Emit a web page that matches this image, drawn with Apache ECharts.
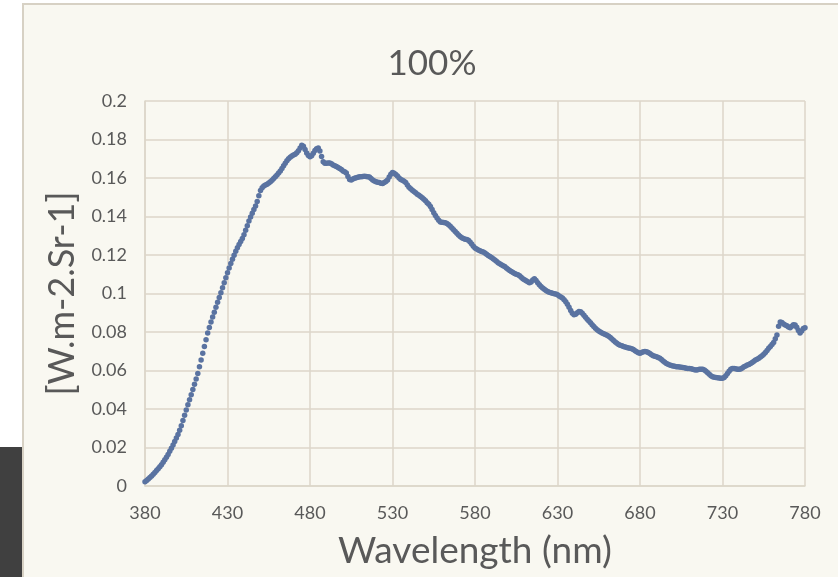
<!DOCTYPE html>
<html>
<head>
<meta charset="utf-8">
<title>100%</title>
<script src="https://cdn.jsdelivr.net/npm/echarts@6/dist/echarts.min.js"></script>
<style>
  html, body { margin: 0; padding: 0; background: #ffffff; }
  body { width: 838px; height: 577px; position: relative; overflow: hidden; }
  #frame {
    position: absolute; left: 22px; top: 3px; width: 840px; height: 600px;
    background: #f9f8f1; border: 2px solid #d7d1c4; box-sizing: border-box;
  }
  #sidebar {
    position: absolute; left: 0; top: 447px; width: 22px; height: 130px;
    background: #404040;
  }
  #chart { position: absolute; left: 0; top: 0; width: 838px; height: 577px; }
</style>
</head>
<body>
<div id="frame"></div>
<div id="sidebar"></div>
<div id="chart"></div>
<script>
// Spectral radiance sampled every 1 nm, starting at 380 nm
const startNm = 380;
const stepNm = 1;
const radiance = [
  // 380
  0.0022, 0.0029, 0.0036, 0.0044, 0.0052, 0.0061, 0.0070, 0.0080, 0.0090, 0.0100,
  // 390
  0.0111, 0.0123, 0.0136, 0.0150, 0.0164, 0.0180, 0.0196, 0.0213, 0.0231, 0.0249,
  // 400
  0.0268, 0.0290, 0.0313, 0.0340, 0.0367, 0.0395, 0.0422, 0.0448, 0.0474, 0.0501,
  // 410
  0.0528, 0.0556, 0.0585, 0.0620, 0.0655, 0.0690, 0.0725, 0.0760, 0.0795, 0.0824,
  // 420
  0.0852, 0.0878, 0.0903, 0.0929, 0.0954, 0.0979, 0.1004, 0.1030, 0.1056, 0.1082,
  // 430
  0.1108, 0.1133, 0.1156, 0.1178, 0.1199, 0.1219, 0.1238, 0.1254, 0.1270, 0.1286,
  // 440
  0.1305, 0.1328, 0.1352, 0.1376, 0.1397, 0.1417, 0.1436, 0.1455, 0.1478, 0.1508,
  // 450
  0.1535, 0.1550, 0.1558, 0.1563, 0.1568, 0.1574, 0.1580, 0.1588, 0.1597, 0.1606,
  // 460
  0.1616, 0.1626, 0.1637, 0.1650, 0.1663, 0.1677, 0.1690, 0.1700, 0.1708, 0.1714,
  // 470
  0.1719, 0.1724, 0.1731, 0.1742, 0.1756, 0.1770, 0.1765, 0.1748, 0.1730, 0.1717,
  // 480
  0.1710, 0.1716, 0.1728, 0.1743, 0.1752, 0.1756, 0.1740, 0.1712, 0.1685, 0.1676,
  // 490
  0.1676, 0.1678, 0.1678, 0.1674, 0.1668, 0.1663, 0.1660, 0.1655, 0.1650, 0.1644,
  // 500
  0.1637, 0.1632, 0.1626, 0.1608, 0.1592, 0.1590, 0.1595, 0.1599, 0.1601, 0.1604,
  // 510
  0.1606, 0.1607, 0.1608, 0.1609, 0.1608, 0.1607, 0.1605, 0.1598, 0.1590, 0.1584,
  // 520
  0.1580, 0.1578, 0.1576, 0.1573, 0.1572, 0.1576, 0.1582, 0.1590, 0.1605, 0.1620,
  // 530
  0.1629, 0.1625, 0.1618, 0.1610, 0.1600, 0.1592, 0.1588, 0.1583, 0.1576, 0.1564,
  // 540
  0.1552, 0.1544, 0.1537, 0.1530, 0.1523, 0.1516, 0.1510, 0.1504, 0.1498, 0.1490,
  // 550
  0.1482, 0.1472, 0.1464, 0.1452, 0.1436, 0.1420, 0.1405, 0.1392, 0.1380, 0.1372,
  // 560
  0.1370, 0.1369, 0.1367, 0.1364, 0.1357, 0.1349, 0.1340, 0.1331, 0.1322, 0.1313,
  // 570
  0.1304, 0.1296, 0.1290, 0.1286, 0.1282, 0.1280, 0.1276, 0.1268, 0.1257, 0.1246,
  // 580
  0.1237, 0.1231, 0.1226, 0.1222, 0.1218, 0.1215, 0.1210, 0.1204, 0.1197, 0.1192,
  // 590
  0.1187, 0.1181, 0.1174, 0.1167, 0.1160, 0.1154, 0.1149, 0.1144, 0.1140, 0.1133,
  // 600
  0.1126, 0.1119, 0.1114, 0.1109, 0.1104, 0.1100, 0.1097, 0.1092, 0.1085, 0.1077,
  // 610
  0.1071, 0.1066, 0.1061, 0.1056, 0.1060, 0.1070, 0.1076, 0.1068, 0.1056, 0.1045,
  // 620
  0.1036, 0.1029, 0.1022, 0.1016, 0.1011, 0.1007, 0.1004, 0.1001, 0.0999, 0.0997,
  // 630
  0.0993, 0.0987, 0.0982, 0.0977, 0.0968, 0.0957, 0.0944, 0.0928, 0.0912, 0.0898,
  // 640
  0.0889, 0.0892, 0.0900, 0.0907, 0.0905, 0.0898, 0.0887, 0.0876, 0.0866, 0.0857,
  // 650
  0.0848, 0.0838, 0.0829, 0.0820, 0.0812, 0.0805, 0.0800, 0.0795, 0.0791, 0.0787,
  // 660
  0.0783, 0.0778, 0.0772, 0.0764, 0.0756, 0.0748, 0.0741, 0.0735, 0.0731, 0.0728,
  // 670
  0.0725, 0.0722, 0.0719, 0.0717, 0.0716, 0.0713, 0.0709, 0.0703, 0.0697, 0.0692,
  // 680
  0.0690, 0.0693, 0.0697, 0.0699, 0.0698, 0.0694, 0.0688, 0.0682, 0.0677, 0.0674,
  // 690
  0.0671, 0.0668, 0.0663, 0.0657, 0.0650, 0.0643, 0.0637, 0.0632, 0.0629, 0.0626,
  // 700
  0.0624, 0.0622, 0.0620, 0.0619, 0.0618, 0.0617, 0.0616, 0.0614, 0.0612, 0.0611,
  // 710
  0.0611, 0.0609, 0.0606, 0.0604, 0.0603, 0.0604, 0.0606, 0.0607, 0.0607, 0.0603,
  // 720
  0.0596, 0.0588, 0.0580, 0.0573, 0.0568, 0.0565, 0.0563, 0.0562, 0.0561, 0.0560,
  // 730
  0.0560, 0.0564, 0.0573, 0.0584, 0.0596, 0.0606, 0.0611, 0.0611, 0.0609, 0.0607,
  // 740
  0.0606, 0.0608, 0.0613, 0.0619, 0.0624, 0.0628, 0.0631, 0.0636, 0.0642, 0.0648,
  // 750
  0.0654, 0.0659, 0.0664, 0.0670, 0.0677, 0.0685, 0.0694, 0.0704, 0.0715, 0.0725,
  // 760
  0.0735, 0.0745, 0.0765, 0.0785, 0.0830, 0.0852, 0.0850, 0.0842, 0.0836, 0.0832,
  // 770
  0.0826, 0.0822, 0.0830, 0.0838, 0.0836, 0.0825, 0.0808, 0.0795, 0.0805, 0.0818,
  // 780
  0.0822
];

const chartTitle = '100%';
const xAxisName = 'Wavelength (nm)';
const yAxisName = '[W.m-2.Sr-1]';
const xTicks = { min: 380, max: 780, interval: 50 };
const yTicks = { min: 0, max: 0.2, interval: 0.02 };

const points = radiance.map((v, i) => [startNm + i * stepNm, v]);

const textColor = '#595959';
const gridColor = '#dcd6c9';
const font = 'Lato, "Open Sans", sans-serif';

const chart = echarts.init(document.getElementById('chart'), null, { renderer: 'canvas' });
chart.setOption({
  backgroundColor: 'transparent',
  animation: false,
  title: {
    text: chartTitle,
    left: 427,
    top: 41,
    textAlign: 'center',
    textStyle: { color: textColor, fontSize: 35, fontWeight: 'normal', fontFamily: font }
  },
  grid: { left: 145, right: 33, top: 101, bottom: 91, containLabel: false },
  xAxis: {
    type: 'value',
    min: xTicks.min, max: xTicks.max, interval: xTicks.interval,
    name: xAxisName,
    nameLocation: 'middle',
    nameGap: 47,
    nameTextStyle: { color: textColor, fontSize: 37, fontFamily: font },
    axisLine: { show: true, lineStyle: { color: gridColor, width: 1.5 } },
    axisTick: { show: false },
    axisLabel: { color: textColor, fontSize: 18, fontFamily: font, margin: 18 },
    splitLine: { show: true, lineStyle: { color: gridColor, width: 1.5 } }
  },
  yAxis: {
    type: 'value',
    min: yTicks.min, max: yTicks.max, interval: yTicks.interval,
    name: yAxisName,
    nameLocation: 'middle',
    nameGap: 64,
    nameTextStyle: { color: textColor, fontSize: 36, fontFamily: font },
    axisLine: { show: true, lineStyle: { color: gridColor, width: 1.5 } },
    axisTick: { show: false },
    axisLabel: { color: textColor, fontSize: 18, fontFamily: font, margin: 18 },
    splitLine: { show: true, lineStyle: { color: gridColor, width: 1.5 } }
  },
  series: [{
    type: 'scatter',
    data: points,
    symbol: 'circle',
    symbolSize: 5.5,
    itemStyle: { color: '#5a73a1', opacity: 1 },
    emphasis: { disabled: true }
  }]
});
</script>
</body>
</html>
